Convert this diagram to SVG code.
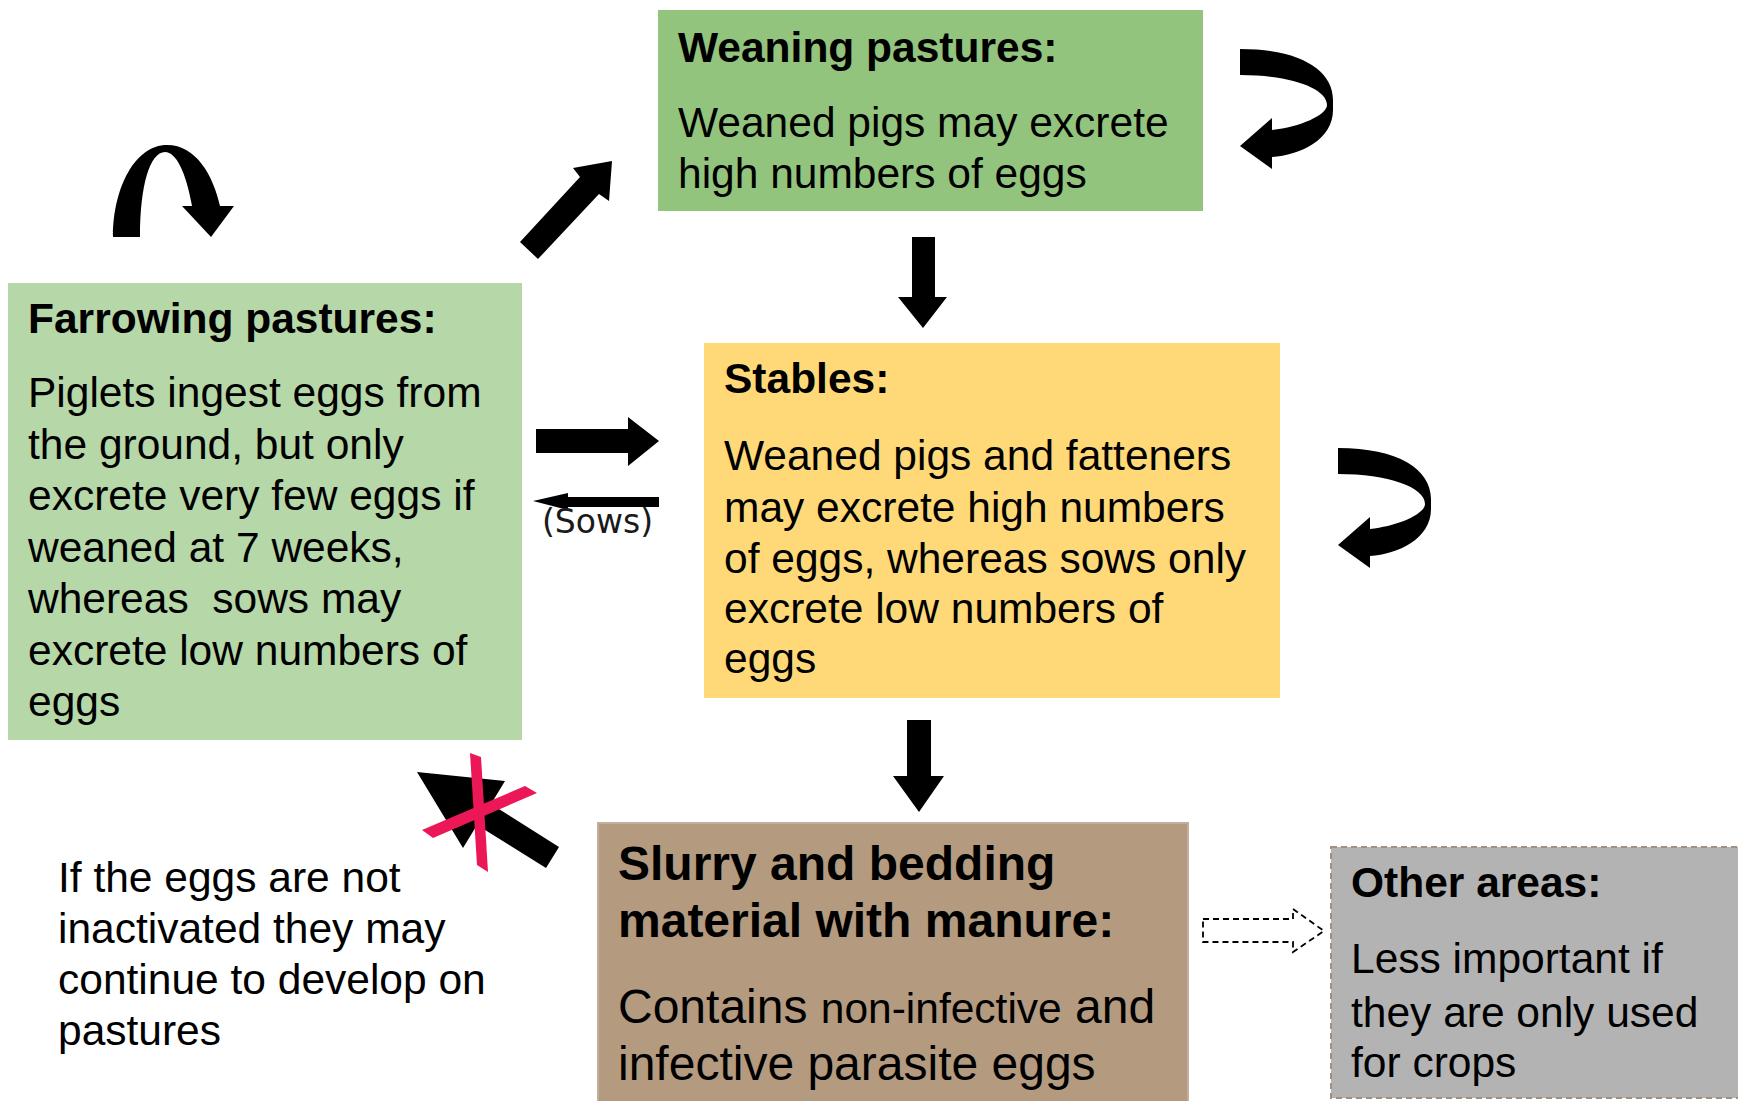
<svg xmlns="http://www.w3.org/2000/svg" width="1738" height="1101" viewBox="0 0 1738 1101">
<style>
text{font-family:"Liberation Sans",Arial,sans-serif;fill:#000;}
.t{font-weight:bold;font-size:42.5px;}
.b{font-size:42.5px;}
.t2{font-weight:bold;font-size:48px;}
.b2{font-size:48px;}
.ar{fill:#000;}
</style>
<rect width="1738" height="1101" fill="#fff"/>
<g id="connectors">
  <!-- self loop above farrowing -->
  <path class="ar" d="M113,237 C113,188 135,145 167,145 C196,145 213,175 220,206 L234,206 L211,237 L182,206 L192,206 C186,172 176,152 165,152 C150,152 140,185 140,237 Z"/>
  <!-- farrowing -> weaning -->
  <polygon class="ar" points="520,242 580,177 573,168 612,161 609,201 599,194 538,259"/>
  <!-- weaning self loop -->
  <path class="ar" d="M1240,49 C1300,49 1333,70 1333,100 L1333,110 C1333,140 1300,155 1272,157 L1272,169 L1240,146 L1272,118 L1272,130 C1300,127 1327,115 1327,105 C1327,88 1290,75 1240,75 Z"/>
  <!-- stables self loop -->
  <path class="ar" transform="translate(98,399)" d="M1240,49 C1300,49 1333,70 1333,100 L1333,110 C1333,140 1300,155 1272,157 L1272,169 L1240,146 L1272,118 L1272,130 C1300,127 1327,115 1327,105 C1327,88 1290,75 1240,75 Z"/>
  <!-- weaning -> stables -->
  <polygon class="ar" points="912,237 935,237 935,297 947,297 923,328 898,297 912,297"/>
  <!-- stables -> slurry -->
  <polygon class="ar" points="907,720 931,720 931,776 944,776 919,812 893,776 907,776"/>
  <!-- farrowing -> stables -->
  <polygon class="ar" points="536,429 628,429 628,417 659,441 628,466 628,453 536,453"/>
  <!-- stables -> farrowing (sows) -->
  <polygon class="ar" points="659,497 568,497 568,493 533,501 568,510 568,507 659,507"/>
  <text x="542" y="533" style="font-family:'DejaVu Sans',Verdana,sans-serif;font-size:33px;fill:#1a1a1a">(Sows)</text>
  <!-- slurry -> farrowing (crossed) -->
  <polygon class="ar" points="559,847 491,804 505,781 417,772 463,848 477,825 546,868"/>
  <polygon fill="#ec1757" points="470,753 481,757 488,872 477,865"/>
  <polygon fill="#ec1757" points="422,830 525,786 537,793 433,838"/>
  <!-- slurry -> other areas (dashed) -->
  <polygon points="1203,919 1293,919 1293,909 1324,931 1293,952 1293,942 1203,942" fill="#fff" stroke="#000" stroke-width="1.8" stroke-dasharray="6,4"/>
</g>
<g id="weaning">
  <rect x="658" y="10" width="545" height="201" fill="#93c47d"/>
  <text class="t" x="678" y="62">Weaning pastures:</text>
  <text class="b" x="678" y="137">Weaned pigs may excrete</text>
  <text class="b" x="678" y="188">high numbers of eggs</text>
</g>
<g id="farrowing">
  <rect x="8" y="283" width="514" height="457" fill="#b6d7a8"/>
  <text class="t" x="28" y="333">Farrowing pastures:</text>
  <text class="b" x="28" y="407">Piglets ingest eggs from</text>
  <text class="b" x="28" y="458.5">the ground, but only</text>
  <text class="b" x="28" y="510">excrete very few eggs if</text>
  <text class="b" x="28" y="561.5">weaned at 7 weeks,</text>
  <text class="b" x="28" y="613" style="white-space:pre">whereas  sows may</text>
  <text class="b" x="28" y="664.5">excrete low numbers of</text>
  <text class="b" x="28" y="716">eggs</text>
</g>
<g id="stables">
  <rect x="704" y="343" width="576" height="355" fill="#ffd978"/>
  <text class="t" x="724" y="393">Stables:</text>
  <text class="b" x="724" y="470">Weaned pigs and fatteners</text>
  <text class="b" x="724" y="522">may excrete high numbers</text>
  <text class="b" x="724" y="573">of eggs, whereas sows only</text>
  <text class="b" x="724" y="623">excrete low numbers of</text>
  <text class="b" x="724" y="673">eggs</text>
</g>
<g id="slurry">
  <rect x="598" y="823" width="590" height="290" fill="#b49a7f" stroke="#c2ae9a" stroke-width="2"/>
  <text class="t2" x="618" y="880">Slurry and bedding</text>
  <text class="t2" x="618" y="937">material with manure:</text>
  <text class="b2" x="618" y="1023">Contains <tspan style="font-size:42.5px">non-infective</tspan> and</text>
  <text class="b2" x="618" y="1080">infective parasite eggs</text>
</g>
<g id="other">
  <rect x="1331" y="847" width="420" height="251" fill="#b3b3b3" stroke="#a38f7e" stroke-width="2" stroke-dasharray="6,4"/>
  <text class="t" x="1351" y="897">Other areas:</text>
  <text class="b" x="1351" y="973">Less important if</text>
  <text class="b" x="1351" y="1027">they are only used</text>
  <text class="b" x="1351" y="1077">for crops</text>
</g>
<g id="note">
  <text class="b" x="58" y="892">If the eggs are not</text>
  <text class="b" x="58" y="943">inactivated they may</text>
  <text class="b" x="58" y="994">continue to develop on</text>
  <text class="b" x="58" y="1045">pastures</text>
</g>
</svg>
